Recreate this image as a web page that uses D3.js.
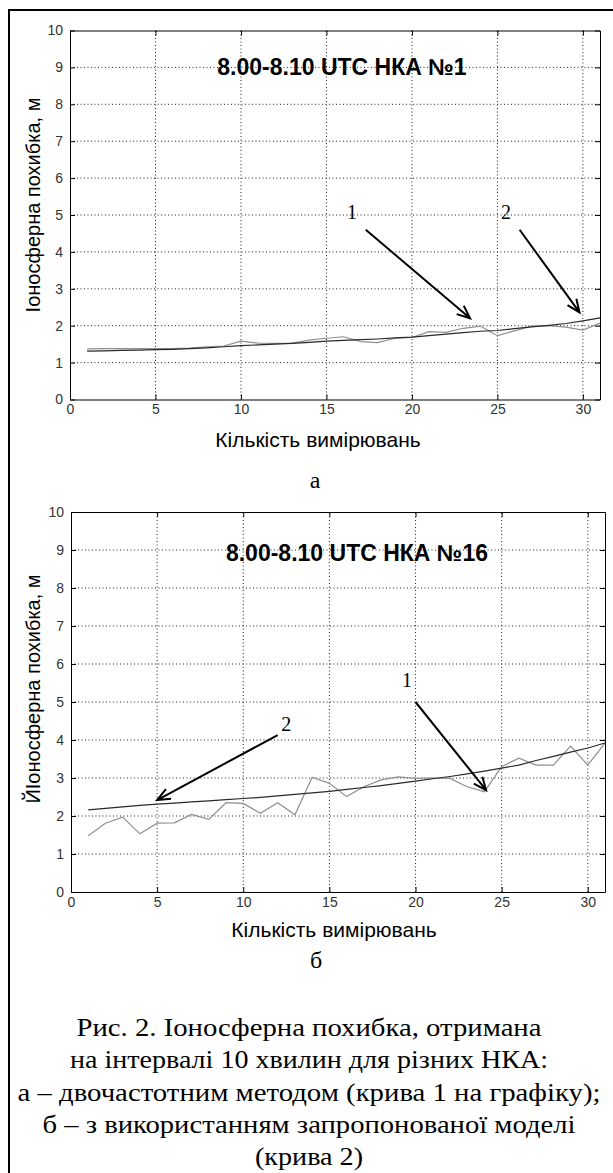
<!DOCTYPE html>
<html>
<head>
<meta charset="utf-8">
<script src="https://cdn.jsdelivr.net/npm/d3@7"></script>
<style>
  body { margin: 0; background: #fff; }
  svg { display: block; }
</style>
</head>
<body>
<svg id="fig"></svg>
<script>
// measurement index (x axis)
const counts = [1, 2, 3, 4, 5, 6, 7, 8, 9, 10, 11, 12, 13, 14, 15, 16,
  17, 18, 19, 20, 21, 22, 23, 24, 25, 26, 27, 28, 29, 30, 31];

const xTicks = [0, 5, 10, 15, 20, 25, 30];
const yTicks = [0, 1, 2, 3, 4, 5, 6, 7, 8, 9, 10];

// panel a: dual-frequency method (curve 1) and model (curve 2)
const aMeasured = [1.37, 1.38, 1.38, 1.38, 1.38, 1.38, 1.39, 1.43, 1.45, 1.58,
  1.53, 1.52, 1.53, 1.61, 1.66, 1.70, 1.57, 1.54, 1.66, 1.68, 1.84, 1.82,
  1.93, 1.99, 1.73, 1.86, 1.99, 2.00, 1.96, 1.88, 2.07];
const aModel = [1.31, 1.32, 1.33, 1.34, 1.35, 1.36, 1.38, 1.40, 1.43, 1.46,
  1.48, 1.50, 1.52, 1.55, 1.58, 1.60, 1.62, 1.64, 1.67, 1.69, 1.73, 1.77,
  1.81, 1.85, 1.87, 1.92, 1.97, 2.01, 2.06, 2.13, 2.21];

// panel б
const bMeasured = [1.48, 1.81, 1.97, 1.53, 1.81, 1.82, 2.04, 1.91, 2.35, 2.33,
  2.07, 2.35, 2.03, 3.02, 2.86, 2.51, 2.77, 2.95, 3.03, 2.99, 3.00, 2.99,
  2.77, 2.64, 3.30, 3.52, 3.34, 3.34, 3.84, 3.34, 3.92];
const bModel = [2.16, 2.20, 2.24, 2.28, 2.31, 2.34, 2.37, 2.40, 2.43, 2.46,
  2.49, 2.53, 2.57, 2.61, 2.65, 2.70, 2.75, 2.80, 2.86, 2.92, 2.98, 3.04,
  3.11, 3.18, 3.26, 3.34, 3.46, 3.57, 3.68, 3.79, 3.92];

// arrow annotations in data units: label, label position, tail, head
const aArrows = [
  { label: '1', at: [16.5, 4.9], from: [17.3, 4.6], to: [23.4, 2.2] },
  { label: '2', at: [25.5, 4.9], from: [26.3, 4.6], to: [29.8, 2.36] }
];
const bArrows = [
  { label: '1', at: [19.5, 5.39], from: [20.0, 5.0], to: [24.1, 2.68] },
  { label: '2', at: [12.5, 4.24], from: [12.0, 4.13], to: [5.0, 2.42] }
];

const captionLines = [
  'Рис. 2. Іоносферна похибка, отримана',
  'на інтервалі 10 хвилин для різних НКА:',
  'а – двочастотним методом (крива 1 на графіку);',
  'б – з використанням запропонованої моделі',
  '(крива 2)'
];

const w = 613, h = 1173;
const sans = '"Liberation Sans", Arial, sans-serif';
const serif = '"Liberation Serif", "Times New Roman", serif';

const svg = d3.select('#fig').attr('width', w).attr('height', h);
svg.append('rect').attr('width', w).attr('height', h).attr('fill', '#fff');

// outer frame (only left and top edges fall inside the picture)
svg.append('path')
  .attr('d', 'M9,' + h + 'V10H' + w)
  .attr('fill', 'none').attr('stroke', '#000').attr('stroke-width', 2);

function panel(cfg) {
  const x = d3.scaleLinear().domain([0, 31]).range([cfg.left, cfg.right]);
  const y = d3.scaleLinear().domain([0, 10]).range([cfg.bottom, cfg.top]);
  const g = svg.append('g');

  // dotted grid
  g.append('g').selectAll('line').data(xTicks.slice(1)).join('line')
    .attr('x1', (d) => x(d)).attr('x2', (d) => x(d))
    .attr('y1', y(0)).attr('y2', y(10))
    .attr('stroke', '#222').attr('stroke-dasharray', '1,2.5');
  g.append('g').selectAll('line').data(yTicks.slice(1, -1)).join('line')
    .attr('x1', x(0)).attr('x2', x(31))
    .attr('y1', (d) => y(d)).attr('y2', (d) => y(d))
    .attr('stroke', '#222').attr('stroke-dasharray', '1,2.5');

  // axes, ticks pointing inward (box on)
  const xAxis = d3.axisBottom(x).tickValues(xTicks).tickSizeInner(-5)
    .tickSizeOuter(0).tickPadding(5);
  const yAxis = d3.axisLeft(y).tickValues(yTicks).tickSizeInner(-5)
    .tickSizeOuter(0).tickPadding(7);
  const axes = [
    g.append('g').attr('transform', 'translate(0,' + y(0) + ')').call(xAxis),
    g.append('g').attr('transform', 'translate(' + x(0) + ',0)').call(yAxis),
    g.append('g').attr('transform', 'translate(0,' + y(10) + ')')
      .call(d3.axisTop(x).tickValues(xTicks).tickSizeInner(-5).tickSizeOuter(0).tickFormat('')),
    g.append('g').attr('transform', 'translate(' + x(31) + ',0)')
      .call(d3.axisRight(y).tickValues(yTicks).tickSizeInner(-5).tickSizeOuter(0).tickFormat(''))
  ];
  axes.forEach((a) => {
    a.attr('font-family', sans).attr('font-size', 14);
    a.selectAll('path, line').attr('stroke', '#000');
    a.selectAll('text').attr('fill', '#333');
  });

  const line = d3.line().x((d, i) => x(counts[i])).y((d) => y(d));
  g.append('path').datum(cfg.measured).attr('d', line)
    .attr('fill', 'none').attr('stroke', '#8f8f8f').attr('stroke-width', 1.2);
  g.append('path').datum(cfg.model).attr('d', line)
    .attr('fill', 'none').attr('stroke', '#2a2a2a').attr('stroke-width', 1.2);

  // arrows
  cfg.arrows.forEach((a) => {
    const x1 = x(a.from[0]), y1 = y(a.from[1]);
    const x2 = x(a.to[0]), y2 = y(a.to[1]);
    const ang = Math.atan2(y2 - y1, x2 - x1);
    const len = 14, spread = 0.4;
    const p1 = [x2 - len * Math.cos(ang - spread), y2 - len * Math.sin(ang - spread)];
    const p2 = [x2 - len * Math.cos(ang + spread), y2 - len * Math.sin(ang + spread)];
    g.append('path')
      .attr('d', 'M' + x1 + ',' + y1 + 'L' + x2 + ',' + y2 +
        'M' + p1 + 'L' + x2 + ',' + y2 + 'L' + p2)
      .attr('fill', 'none').attr('stroke', '#000').attr('stroke-width', 2);
    g.append('text').attr('x', x(a.at[0])).attr('y', y(a.at[1]))
      .attr('text-anchor', 'middle').attr('font-family', serif)
      .attr('font-size', 20).text(a.label);
  });

  g.append('text').attr('x', cfg.titleX).attr('y', cfg.titleY)
    .attr('text-anchor', 'middle').attr('font-family', sans)
    .attr('font-weight', 'bold').attr('font-size', 23).text(cfg.title);

  g.append('text').attr('x', cfg.xLabelX).attr('y', cfg.xLabelY)
    .attr('text-anchor', 'middle').attr('font-family', sans)
    .attr('font-size', 21).text('Кількість вимірювань');

  g.append('text')
    .attr('transform', 'translate(40,' + cfg.yLabelY + ') rotate(-90)')
    .attr('text-anchor', 'middle').attr('font-family', sans)
    .attr('font-size', 20).text(cfg.yLabel);

  g.append('text').attr('x', cfg.tagX).attr('y', cfg.tagY)
    .attr('text-anchor', 'middle').attr('font-family', serif)
    .attr('font-size', 24).text(cfg.tag);
}

panel({
  left: 70, right: 600, top: 30.5, bottom: 399.5,
  measured: aMeasured, model: aModel, arrows: aArrows,
  title: '8.00-8.10 UTC НКА №1', titleX: 342, titleY: 75,
  xLabelX: 318, xLabelY: 447,
  yLabel: 'Іоносферна похибка, м', yLabelY: 205,
  tag: 'а', tagX: 315, tagY: 488
});

panel({
  left: 71, right: 605, top: 512, bottom: 892,
  measured: bMeasured, model: bModel, arrows: bArrows,
  title: '8.00-8.10 UTC НКА №16', titleX: 357, titleY: 561,
  xLabelX: 334, xLabelY: 937,
  yLabel: 'ЙІоносферна похибка, м', yLabelY: 689,
  tag: 'б', tagX: 316, tagY: 968
});

// caption
const capLengths = [465, 478, 583, 533, 108];
svg.append('g').selectAll('text').data(captionLines).join('text')
  .attr('x', 309)
  .attr('y', (d, i) => 1036 + i * 32.3)
  .attr('text-anchor', 'middle')
  .attr('font-family', serif).attr('font-size', 25)
  .attr('textLength', (d, i) => capLengths[i])
  .attr('lengthAdjust', 'spacingAndGlyphs')
  .text((d) => d);
</script>
</body>
</html>
